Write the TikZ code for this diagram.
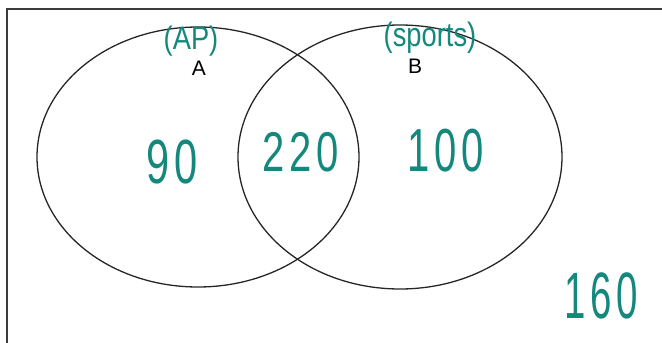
\documentclass[tikz,border=0pt]{standalone}
\usepackage{fontspec}
\setmainfont{Liberation Sans}
\definecolor{ink}{RGB}{20,136,124}
\definecolor{frame}{RGB}{60,60,60}
\begin{document}
\begin{tikzpicture}[x=1pt,y=-1pt,
  setline/.style={line width=1.3pt,black!85},
  hand/.style={text=ink,inner sep=0pt},
  big/.style={hand,font=\fontsize{32}{32}\selectfont\addfontfeature{LetterSpace=12}},
  small/.style={hand,font=\fontsize{26}{26}\selectfont},
  lab/.style={inner sep=0pt,font=\fontsize{21}{21}\selectfont}]
\useasboundingbox (0,0) rectangle (662,343);
\clip (0,0) rectangle (662,343);
\draw[line width=1.6pt,frame] (7,9) rectangle (690,370);
\draw[setline] (198,157) ellipse [x radius=161, y radius=130];
\draw[setline] (400,157) ellipse [x radius=162, y radius=132];
\node[lab] (A) at (199,68) {A};
\node[lab] (B) at (415,66) {B};
\node[small] (ap) at (191,41) {\scalebox{1.05}[1.25]{(AP)}};
\node[small] (sp) at (430,38) {\scalebox{1.05}[1.3]{(sports)}};
\node[big] (n90) at (172,162) {\scalebox{1.3}[1.95]{90}};
\node[big] (n220) at (301,152) {\scalebox{1.25}[1.75]{220}};
\node[big] (n100) at (446,151) {\scalebox{1.25}[1.9]{100}};
\node[big] (n160) at (601,296) {\scalebox{1.2}[2.05]{160}};
\end{tikzpicture}
\end{document}
